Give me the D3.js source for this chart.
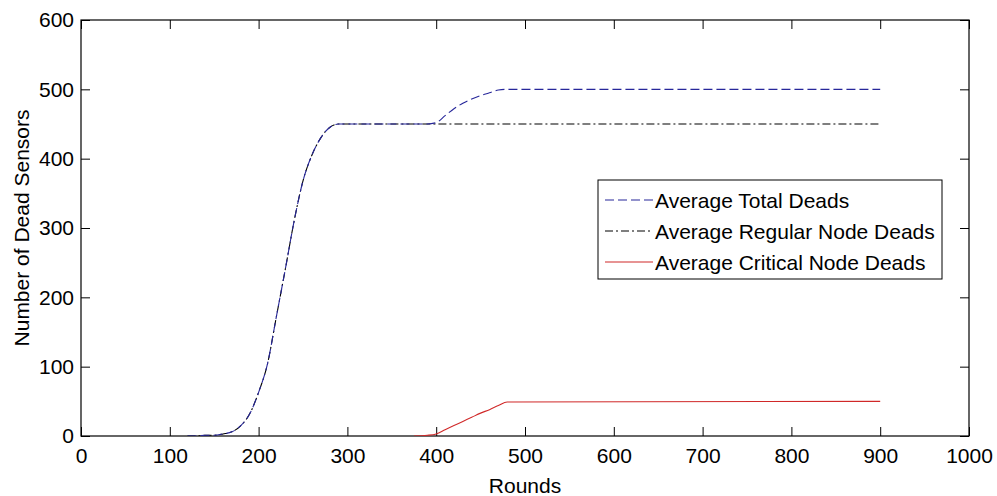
<!DOCTYPE html>
<html>
<head>
<meta charset="utf-8">
<script src="https://cdn.jsdelivr.net/npm/d3@7"></script>
<style>
  html, body { margin: 0; padding: 0; background: #fff; }
  text { font-family: "Liberation Sans", Arial, Helvetica, sans-serif; fill: #000; }
</style>
</head>
<body>
<svg id="chart" width="997" height="496"></svg>
<script>
// ---- Data ----
const xTicks = [0, 100, 200, 300, 400, 500, 600, 700, 800, 900, 1000];
const yTicks = [0, 100, 200, 300, 400, 500, 600];

const roundsMain = [120,130,140,150,160,170,180,190,200,210,220,230,240,250,260,270,280,290,300,390,400,410,420,430,440,450,460,470,480,900];
const totalDeads = [0,0,1,1,3,6,15,32,63,104,172,240,310,368,405,430,445,450,450,450,452,462,472,480,486,491,495,499,500,500];
const regularDeads = [0,0,1,1,3,6,15,32,63,104,172,240,310,368,405,430,445,450,450,450,450,450,450,450,450,450,450,450,450,450];

const roundsCrit = [375,390,400,410,420,430,440,450,460,470,480,900];
const criticalDeads = [0,1,3,9,15,21,27,33,38,44,49,50];

const seriesNames = ["Average Total Deads", "Average Regular Node Deads", "Average Critical Node Deads"];

// ---- Layout ----
const svg = d3.select("#chart");
const L = 81, R = 969, T = 20, B = 436;
const x = d3.scaleLinear().domain([0, 1000]).range([L, R]);
const y = d3.scaleLinear().domain([0, 600]).range([B, T]);

const fs = 21;

// Box
svg.append("rect").attr("x", L).attr("y", T).attr("width", R - L).attr("height", B - T)
  .attr("fill", "#fff").attr("stroke", "#000").attr("stroke-width", 1.2);

// Axes with inward ticks
const tickLen = 9;
const xAxisB = d3.axisBottom(x).tickValues(xTicks).tickSize(-tickLen).tickPadding(12).tickFormat(d3.format("d"));
const xAxisT = d3.axisTop(x).tickValues(xTicks).tickSize(-tickLen).tickFormat("");
const yAxisL = d3.axisLeft(y).tickValues(yTicks).tickSize(-tickLen).tickPadding(7).tickFormat(d3.format("d"));
const yAxisR = d3.axisRight(y).tickValues(yTicks).tickSize(-tickLen).tickFormat("");

function styleAxis(g) {
  g.select(".domain").remove();
  g.selectAll(".tick line").attr("stroke", "#000").attr("stroke-width", 1);
  g.selectAll("text").style("font-size", fs + "px").attr("fill", "#000")
    .style("font-family", "'Liberation Sans', Arial, sans-serif");
}
svg.append("g").attr("transform", `translate(0,${B})`).call(xAxisB).call(styleAxis);
svg.append("g").attr("transform", `translate(0,${T})`).call(xAxisT).call(styleAxis);
svg.append("g").attr("transform", `translate(${L},0)`).call(yAxisL).call(styleAxis);
svg.append("g").attr("transform", `translate(${R},0)`).call(yAxisR).call(styleAxis);

// Lines
const line = d3.line().x(d => x(d[0])).y(d => y(d[1])).curve(d3.curveMonotoneX);
svg.append("clipPath").attr("id", "clip").append("rect")
  .attr("x", L).attr("y", T).attr("width", R - L).attr("height", B - T);
const plot = svg.append("g").attr("clip-path", "url(#clip)");

const styles = [
  { color: "#27279a", dash: "9,4" },
  { color: "#000000", dash: "8,3,2,3" },
  { color: "#d02828", dash: null }
];

const dataSets = [
  d3.zip(roundsMain, regularDeads),
  d3.zip(roundsMain, totalDeads),
  d3.zip(roundsCrit, criticalDeads)
];
const styleIdx = [1, 0, 2];
dataSets.forEach((ds, i) => {
  const st = styles[styleIdx[i]];
  plot.append("path").datum(ds).attr("d", line)
    .attr("fill", "none").attr("stroke", st.color).attr("stroke-width", 1.1)
    .attr("stroke-dasharray", st.dash);
});

// Axis titles
svg.append("text").attr("x", (L + R) / 2).attr("y", 493).attr("text-anchor", "middle")
  .style("font-size", fs + "px").text("Rounds");
svg.append("text").attr("transform", `translate(29,${(T + B) / 2}) rotate(-90)`)
  .attr("text-anchor", "middle").style("font-size", fs + "px").text("Number of Dead Sensors");

// Legend
const lg = svg.append("g");
lg.append("rect").attr("x", 598).attr("y", 180).attr("width", 344).attr("height", 99)
  .attr("fill", "#fff").attr("stroke", "#000").attr("stroke-width", 1);
const rowsY = [200, 231, 262];
seriesNames.forEach((name, i) => {
  const st = styles[i];
  lg.append("line").attr("x1", 605).attr("x2", 653).attr("y1", rowsY[i]).attr("y2", rowsY[i])
    .attr("stroke", st.color).attr("stroke-width", 1.1).attr("stroke-dasharray", st.dash);
  lg.append("text").attr("x", 655).attr("y", rowsY[i]).attr("dy", "0.36em")
    .style("font-size", fs + "px").text(name);
});
</script>
</body>
</html>
